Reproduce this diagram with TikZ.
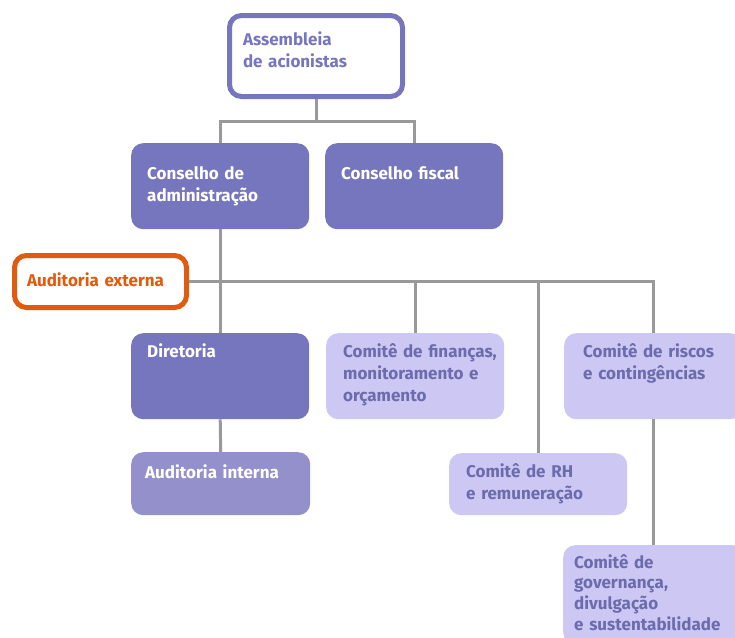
\documentclass[tikz,border=0pt]{standalone}
\usepackage{fontspec}
\setmainfont{Fira Sans}
\usetikzlibrary{positioning}

\definecolor{roxo}{HTML}{7676BE}
\definecolor{roxoclaro}{HTML}{9490CC}
\definecolor{lilas}{HTML}{CCC8F3}
\definecolor{textolilas}{HTML}{6B6BAD}
\definecolor{laranja}{HTML}{E05A10}
\definecolor{cinza}{HTML}{999999}

\tikzset{
  caixa/.style={anchor=north west, rounded corners=12pt, inner ysep=0pt,
    inner xsep=16pt, align=left, text width=146pt,
    font=\bfseries\fontsize{17}{22}\selectfont},
  cheia/.style={caixa, fill=roxo, text=white},
  clara/.style={caixa, fill=lilas, text=textolilas},
  contorno/.style={caixa, draw=#1, line width=5pt, text=#1},
  ligacao/.style={draw=cinza, line width=3pt},
}

\begin{document}
\begin{tikzpicture}[x=1pt, y=-1pt]
  \useasboundingbox (0,0) rectangle (735,637);

  %---------------- topo ----------------
  \node[contorno=roxo, inner xsep=13.5pt, text width=146pt,
        text height=29.5pt, text depth=51.5pt] (assem) at (227,13)
        {Assembleia\\de acionistas};

  \node[cheia, text height=36pt, text depth=50pt] (cadm) at (131,143)
        {Conselho de\\administração};
  \node[cheia, text height=36pt, text depth=50pt] (fisc) at (325,143)
        {Conselho fiscal};

  %---------------- auditoria externa ----------------
  \node[contorno=laranja, inner xsep=12.5pt, text width=147pt,
        text height=30.5pt, text depth=21.5pt] (audext) at (12,253)
        {Auditoria externa};

  %---------------- segundo nivel ----------------
  \node[cheia, text height=24pt, text depth=62pt] (dire) at (131,333)
        {Diretoria};
  \node[clara, inner xsep=17pt, text width=144pt,
        text height=24pt, text depth=62pt] (fin) at (326,333)
        {\mbox{Comitê de finanças,}\\monitoramento e\\orçamento};
  \node[clara, inner xsep=19pt, text width=140pt,
        text height=24pt, text depth=62pt] (riscos) at (564,333)
        {Comitê de riscos\\e contingências};

  %---------------- terceiro nivel ----------------
  \node[cheia, fill=roxoclaro, inner xsep=14pt, text width=151pt,
        text height=26pt, text depth=37pt] (audint) at (131,452)
        {Auditoria interna};
  \node[clara, inner xsep=17pt, text width=144pt,
        text height=24pt, text depth=38pt] (rh) at (449,453)
        {Comitê de RH\\e remuneração};
  \node[clara, inner xsep=11pt, text width=160pt,
        font=\bfseries\fontsize{17}{20.7}\selectfont,
        text height=23pt, text depth=76pt] (gov) at (563,545)
        {Comitê de\\governança,\\divulgação\\e sustentabilidade};

  %---------------- ligacoes ----------------
  \coordinate (topbar) at (assem.south |- 0,121);
  \draw[ligacao] (assem.south) -- (topbar);
  \draw[ligacao] (cadm.north) |- (topbar) -| (fisc.north);

  \draw[ligacao] (cadm.south) -- (dire.north);
  \draw[ligacao] (audext.east) -| (riscos.north);
  \draw[ligacao] (fin.north) |- (audext.east);
  \draw[ligacao] (rh.north) |- (audext.east);
  \draw[ligacao] (riscos.south) -- (riscos.south |- gov.north);
  \draw[ligacao] (dire.south) -- (audint.north);
\end{tikzpicture}
\end{document}
